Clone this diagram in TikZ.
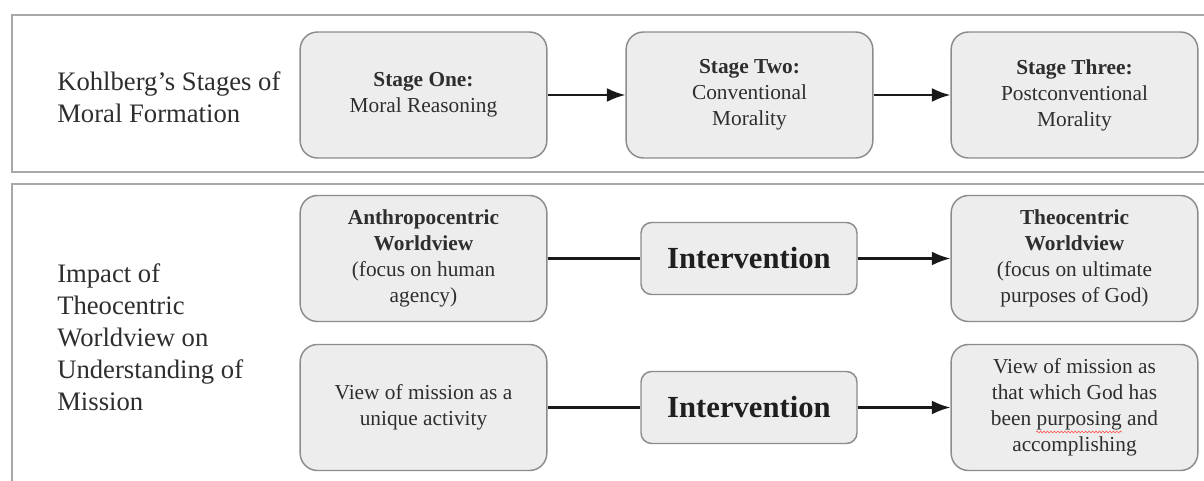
\documentclass[tikz,border=0pt]{standalone}
\usepackage{fontspec}
\setmainfont{Liberation Serif}
\usetikzlibrary{arrows.meta,decorations.pathmorphing}
\definecolor{panelgray}{HTML}{A8A8A8}
\definecolor{boxborder}{HTML}{8C8C8C}
\definecolor{boxfill}{HTML}{EDEDED}
\definecolor{txt}{HTML}{2E2E2E}
\tikzset{
  panel/.style={draw=panelgray, line width=1.6pt},
  bigbox/.style={draw=boxborder, fill=boxfill, line width=1.1pt, rounded corners=13pt,
    minimum width=185pt, minimum height=94.5pt, align=center, inner sep=0pt,
    font=\fontsize{16pt}{19.5pt}\selectfont, text=txt},
  intbox/.style={draw=boxborder, fill=boxfill, line width=1.1pt, rounded corners=8pt,
    minimum width=162pt, minimum height=54pt, align=center, inner sep=0pt,
    font=\fontsize{23pt}{27pt}\selectfont\bfseries, text=black!88},
  sidelabel/.style={anchor=west, align=left, inner sep=0pt,
    font=\fontsize{20pt}{24pt}\selectfont, text=txt},
  conn/.style={line width=1.7pt, black!90},
  arr/.style={conn, -{Latex[length=14pt,width=10.5pt]}},
  spell/.style={red!70, line width=0.4pt, decorate,
    decoration={snake, amplitude=0.7pt, segment length=2.6pt}}
}
\begin{document}
\begin{tikzpicture}[x=0.75pt,y=-0.75pt]
\useasboundingbox (0,0) rectangle (1204,481);
\clip (0,0) rectangle (1204,481);
\fill[white] (0,0) rectangle (1204,481);
% panels
\draw[panel] (12,15) rectangle (1230,172);
\draw[panel] (12,184) rectangle (1230,520);
% side labels
\node[sidelabel] (lab1) at (57,97) {Kohlberg’s Stages of\\Moral Formation};
\node[sidelabel] (lab2) at (57,337.5) {Impact of\\Theocentric\\Worldview on\\Understanding of\\Mission};
% top row
\node[bigbox] (s1) at (423.5,95) {\textbf{Stage One:}\\Moral Reasoning};
\node[bigbox] (s2) at (749.5,95) {\textbf{Stage Two:}\\Conventional\\Morality};
\node[bigbox] (s3) at (1074.5,95) {\textbf{Stage Three:}\\Postconventional\\Morality};
\draw[arr] (s1) -- (s2);
\draw[arr] (s2) -- (s3);
% middle row
\node[bigbox] (a1) at (423.5,258.5) {\textbf{Anthropocentric}\\\textbf{Worldview}\\(focus on human\\agency)};
\node[intbox] (i1) at (749,258.5) {Intervention};
\node[bigbox] (t1) at (1074.5,258.5) {\textbf{Theocentric}\\\textbf{Worldview}\\(focus on ultimate\\purposes of God)};
\draw[conn] (a1) -- (i1);
\draw[arr] (i1) -- (t1);
% bottom row
\node[bigbox] (v1) at (423.5,407.5) {View of mission as a\\unique activity};
\node[intbox] (i2) at (749,407.5) {Intervention};
\node[bigbox] (v2) at (1074.5,407.5) {View of mission as\\that which God has\\been purposing and\\accomplishing};
\draw[conn] (v1) -- (i2);
\draw[arr] (i2) -- (v2);
% spell-check underline under "purposing"
\coordinate (sq1) at (1036,432);
\coordinate (sq2) at (1122,432);
\draw[spell] (sq1) -- (sq2);
\end{tikzpicture}
\end{document}
